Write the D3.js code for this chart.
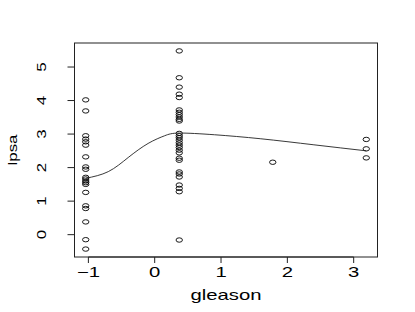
<!DOCTYPE html>
<html>
<head>
<meta charset="utf-8">
<script src="https://cdn.jsdelivr.net/npm/d3@7"></script>
<style>
  html, body { margin: 0; padding: 0; background: #fff; }
  svg text { font-family: "Liberation Sans", Arial, sans-serif; fill: #000; }
</style>
</head>
<body>
<svg id="chart" width="415" height="312"></svg>
<script>
// gleason (standardised) levels and the lpsa values observed at each
const gleasonLevels = [-1.04, 0.37, 1.78, 3.19];
const lpsaAt6 = [4.02, 3.69, 2.95, 2.85, 2.77, 2.67, 2.32, 2.02, 1.95, 1.71, 1.66, 1.60, 1.55, 1.50, 1.26, 0.86, 0.78, 0.38, -0.15, -0.43];
const lpsaAt7 = [5.48, 4.68, 4.40, 4.19, 4.09, 3.72, 3.65, 3.58, 3.51, 3.44, 3.39, 3.02, 2.95, 2.89, 2.82, 2.74, 2.67, 2.60, 2.52, 2.44, 2.28, 2.22, 1.87, 1.81, 1.72, 1.48, 1.38, 1.28, -0.16];
const lpsaAt8 = [2.16];
const lpsaAt9 = [2.84, 2.56, 2.29];

// fitted smooth
const fitX = [-1.04, -0.7, -0.4, -0.1, 0.15, 0.37, 0.9, 1.6, 2.4, 3.19];
const fitY = [1.68, 1.88, 2.3, 2.72, 2.95, 3.03, 2.98, 2.86, 2.68, 2.50];

const xTicks = [-1, 0, 1, 2, 3];
const yTicks = [0, 1, 2, 3, 4, 5];

const points = [];
[lpsaAt6, lpsaAt7, lpsaAt8, lpsaAt9].forEach((vals, i) => {
  vals.forEach(v => points.push({ x: gleasonLevels[i], y: v }));
});

// R style 4% padding around the data range
function padded(ext) {
  const d = (ext[1] - ext[0]) * 0.04;
  return [ext[0] - d, ext[1] + d];
}

const svg = d3.select('#chart');
const box = { left: 74.5, right: 377.5, top: 43, bottom: 257 };

const x = d3.scaleLinear()
  .domain(padded(d3.extent(points, d => d.x)))
  .range([box.left, box.right]);
const y = d3.scaleLinear()
  .domain(padded(d3.extent(points, d => d.y)))
  .range([box.bottom, box.top]);

// plot frame
svg.append('rect')
  .attr('x', box.left).attr('y', box.top)
  .attr('width', box.right - box.left).attr('height', box.bottom - box.top)
  .attr('fill', 'none').attr('stroke', '#222').attr('stroke-width', 1);

// x axis
const xAxis = svg.append('g');
xAxis.selectAll('line').data(xTicks).join('line')
  .attr('x1', d => x(d)).attr('x2', d => x(d))
  .attr('y1', box.bottom).attr('y2', box.bottom + 6)
  .attr('stroke', '#222');
xAxis.append('line')
  .attr('x1', x(xTicks[0])).attr('x2', x(xTicks[xTicks.length - 1]))
  .attr('y1', box.bottom).attr('y2', box.bottom)
  .attr('stroke', '#222');
xAxis.selectAll('text').data(xTicks).join('text')
  .attr('transform', d => `translate(${x(d)},277) scale(1.45,1)`)
  .attr('text-anchor', 'middle')
  .attr('font-size', 14)
  .text(d => d < 0 ? '\u2212' + Math.abs(d) : d);

// y axis
const yAxis = svg.append('g');
yAxis.selectAll('line').data(yTicks).join('line')
  .attr('x1', box.left - 7).attr('x2', box.left)
  .attr('y1', d => y(d)).attr('y2', d => y(d))
  .attr('stroke', '#222');
yAxis.selectAll('text').data(yTicks).join('text')
  .attr('transform', d => `translate(46,${y(d)}) rotate(-90) scale(1.3,1)`)
  .attr('text-anchor', 'middle')
  .attr('font-size', 13)
  .text(d => d);

// axis titles
svg.append('text')
  .attr('transform', `translate(${(box.left + box.right) / 2},300) scale(1.45,1)`)
  .attr('text-anchor', 'middle')
  .attr('font-size', 14)
  .text('gleason');
svg.append('text')
  .attr('transform', `translate(17,${(box.top + box.bottom) / 2}) rotate(-90) scale(1.3,1)`)
  .attr('text-anchor', 'middle')
  .attr('font-size', 13)
  .text('lpsa');

// points
svg.append('g')
  .selectAll('ellipse')
  .data(points)
  .join('ellipse')
  .attr('cx', d => x(d.x))
  .attr('cy', d => y(d.y))
  .attr('rx', 3.2)
  .attr('ry', 2.2)
  .attr('fill', 'none')
  .attr('stroke', '#000')
  .attr('stroke-width', 0.9);

// fitted curve
const line = d3.line()
  .x((d, i) => x(fitX[i]))
  .y(d => y(d))
  .curve(d3.curveNatural);
svg.append('path')
  .attr('d', line(fitY))
  .attr('fill', 'none')
  .attr('stroke', '#222')
  .attr('stroke-width', 0.9);
</script>
</body>
</html>
